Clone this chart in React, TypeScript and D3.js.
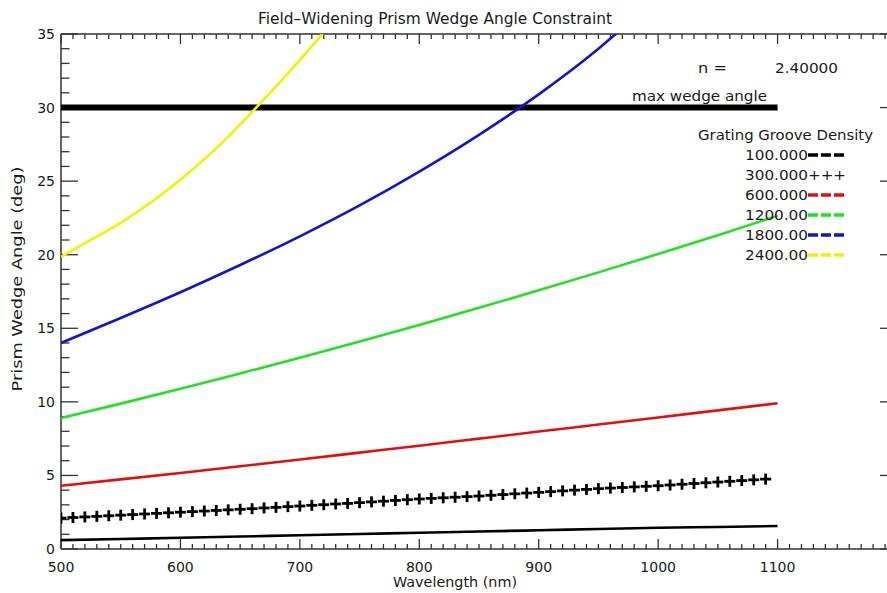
import React from "react";
import * as d3 from "d3";

// wavelength grid (nm) and read-off wedge angles (deg)
const gridNm = [500, 550, 600, 650, 700, 750, 800, 850, 900, 950, 1000, 1050, 1100];
const angle100 = [0.6, 0.68, 0.76, 0.85, 0.93, 1.02, 1.1, 1.19, 1.27, 1.36, 1.44, 1.5, 1.56];
const angle600 = [4.3, 4.73, 5.17, 5.62, 6.08, 6.55, 7.02, 7.5, 7.98, 8.46, 8.94, 9.42, 9.9];
const angle1200 = [8.9, 9.88, 10.89, 11.93, 13.0, 14.1, 15.23, 16.39, 17.58, 18.8, 20.05, 21.33, 22.64];

const nm1800 = [500, 550, 600, 650, 700, 750, 800, 850, 900, 950, 975];
const angle1800 = [14.0, 15.7, 17.45, 19.3, 21.25, 23.35, 25.65, 28.15, 30.9, 34.0, 35.75];

const nm2400 = [500, 523, 551, 579, 607, 635, 662, 690, 718, 730];
const angle2400 = [19.87, 20.92, 22.22, 23.77, 25.57, 27.62, 29.87, 32.32, 34.92, 36.1];

const nm300 = [
  500, 510, 520, 530, 540, 550, 560, 570, 580, 590, 600, 610, 620, 630, 640, 650, 660, 670, 680, 690,
  700, 710, 720, 730, 740, 750, 760, 770, 780, 790, 800, 810, 820, 830, 840, 850, 860, 870, 880, 890,
  900, 910, 920, 930, 940, 950, 960, 970, 980, 990, 1000, 1010, 1020, 1030, 1040, 1050, 1060, 1070, 1080, 1090,
];
const angle300 = [
  2.1, 2.14, 2.18, 2.22, 2.26, 2.3, 2.34, 2.38, 2.42, 2.46, 2.5, 2.54, 2.58, 2.62, 2.66, 2.7, 2.74, 2.79, 2.83, 2.88,
  2.92, 2.97, 3.01, 3.06, 3.1, 3.15, 3.2, 3.25, 3.3, 3.35, 3.4, 3.44, 3.48, 3.52, 3.56, 3.6, 3.65, 3.7, 3.75, 3.8,
  3.85, 3.9, 3.95, 4.0, 4.05, 4.1, 4.14, 4.18, 4.22, 4.26, 4.3, 4.35, 4.4, 4.45, 4.5, 4.55, 4.6, 4.65, 4.7, 4.75,
];

const maxWedgeNm = [500, 1100];
const maxWedgeAngle = [30, 30];

const legendLabels = ["100.000", "300.000", "600.000", "1200.00", "1800.00", "2400.00"];
const legendColors = ["#000000", "#000000", "#e01010", "#22e022", "#1414c8", "#f2f200"];

const xTickLabels = [500, 600, 700, 800, 900, 1000, 1100];
const yTickLabels = [0, 5, 10, 15, 20, 25, 30, 35];

const W = 887;
const H = 593;
const left = 61;
const right = 897;
const top = 34;
const bottom = 549;
const axisColor = "#333";
const textColor = "#1a1a1a";
const font = "DejaVu Sans, sans-serif";

export default function App() {
  const x = d3.scaleLinear().domain([500, 1200]).range([left, right]);
  const y = d3.scaleLinear().domain([0, 35]).range([bottom, top]);

  const line = (xs: number[], ys: number[]) =>
    d3
      .line<number>()
      .x((d) => x(d))
      .y((_, i) => y(ys[i]))
      .curve(d3.curveMonotoneX)(xs) || "";

  const xMinor = d3.range(500, 1201, 10);
  const xMajor = d3.range(500, 1201, 100);
  const yMinor = d3.range(0, 36, 1);
  const yMajor = d3.range(0, 36, 5);

  const curves = [
    { xs: gridNm, ys: angle100, color: legendColors[0] },
    { xs: gridNm, ys: angle600, color: legendColors[2] },
    { xs: gridNm, ys: angle1200, color: legendColors[3] },
    { xs: nm1800, ys: angle1800, color: legendColors[4] },
    { xs: nm2400, ys: angle2400, color: legendColors[5] },
  ];

  const legX = 745;
  const legY0 = 160;
  const legStep = 20;

  return (
    <svg
      width={W}
      height={H}
      style={{ position: "absolute", left: 0, top: 0, background: "#fff" }}
      fontFamily={font}
    >
      <rect width={W} height={H} fill="#fff" />
      <defs>
        <clipPath id="plotArea">
          <rect x={left} y={top} width={right - left} height={bottom - top} />
        </clipPath>
      </defs>

      {/* title */}
      <text x={435} y={24} textAnchor="middle" fontSize={15.5} fill={textColor} textLength={354} lengthAdjust="spacingAndGlyphs">
        Field–Widening Prism Wedge Angle Constraint
      </text>

      {/* frame */}
      <g stroke={axisColor} strokeWidth={1.5} fill="none">
        <line x1={left} x2={right} y1={bottom} y2={bottom} />
        <line x1={left} x2={right} y1={top} y2={top} />
        <line x1={left} x2={left} y1={top} y2={bottom} />
        <line x1={right} x2={right} y1={top} y2={bottom} />
      </g>

      {/* ticks on all four sides */}
      <g stroke={axisColor} strokeWidth={1.3}>
        {xMinor.map((v) => {
          const len = xMajor.includes(v) ? 10 : 5;
          return (
            <g key={"xt" + v}>
              <line x1={x(v)} x2={x(v)} y1={bottom} y2={bottom - len} />
              <line x1={x(v)} x2={x(v)} y1={top} y2={top + len} />
            </g>
          );
        })}
        {yMinor.map((v) => {
          const len = yMajor.includes(v) ? 17 : 8.5;
          return (
            <g key={"yt" + v}>
              <line x1={left} x2={left + len} y1={y(v)} y2={y(v)} />
              <line x1={right} x2={right - len} y1={y(v)} y2={y(v)} />
            </g>
          );
        })}
      </g>

      {/* tick labels */}
      <g fontSize={14} fill={textColor}>
        {xTickLabels.map((v) => (
          <text key={"xl" + v} x={x(v)} y={572} textAnchor="middle">
            {v}
          </text>
        ))}
        {yTickLabels.map((v) => (
          <text key={"yl" + v} x={55} y={y(v) + 5} textAnchor="end">
            {v}
          </text>
        ))}
      </g>

      {/* axis titles */}
      <text x={455} y={587} textAnchor="middle" fontSize={14} fill={textColor} textLength={124} lengthAdjust="spacingAndGlyphs">
        Wavelength (nm)
      </text>
      <text
        transform={`translate(22, 279) rotate(-90)`}
        textAnchor="middle"
        fontSize={14}
        fill={textColor}
        textLength={225}
        lengthAdjust="spacingAndGlyphs"
      >
        Prism Wedge Angle (deg)
      </text>

      {/* data */}
      <g clipPath="url(#plotArea)" fill="none" strokeLinejoin="round">
        <path d={line(maxWedgeNm, maxWedgeAngle)} stroke="#000" strokeWidth={6} />
        {curves.map((c, i) => (
          <path key={"c" + i} d={line(c.xs, c.ys)} stroke={c.color} strokeWidth={2.6} />
        ))}
        {nm300.map((v, i) => (
          <g key={"p" + i} stroke="#000" strokeWidth={2.8}>
            <line x1={x(v) - 5.5} x2={x(v) + 5.5} y1={y(angle300[i])} y2={y(angle300[i])} />
            <line x1={x(v)} x2={x(v)} y1={y(angle300[i]) - 5.5} y2={y(angle300[i]) + 5.5} />
          </g>
        ))}
      </g>

      {/* annotations */}
      <g fontSize={14} fill={textColor}>
        <text x={698} y={73} textLength={29} lengthAdjust="spacingAndGlyphs">n =</text>
        <text x={775} y={73} textLength={63} lengthAdjust="spacingAndGlyphs">2.40000</text>
        <text x={632} y={101} textLength={135} lengthAdjust="spacingAndGlyphs">max wedge angle</text>
        <text x={698} y={140} textLength={175} lengthAdjust="spacingAndGlyphs">Grating Groove Density</text>
        {legendLabels.map((lab, i) => (
          <text key={"lg" + i} x={legX} y={legY0 + i * legStep} textLength={63} lengthAdjust="spacingAndGlyphs">
            {lab}
          </text>
        ))}
      </g>
      {legendLabels.map((lab, i) => {
        const yy = legY0 + i * legStep - 5;
        if (i === 1) {
          return (
            <text key={"ls" + i} x={808} y={legY0 + i * legStep} fontSize={14} fill={textColor} textLength={38} lengthAdjust="spacingAndGlyphs">
              +++
            </text>
          );
        }
        return (
          <line
            key={"ls" + i}
            x1={808}
            x2={846}
            y1={yy}
            y2={yy}
            stroke={legendColors[i]}
            strokeWidth={3.5}
            strokeDasharray="10,3"
          />
        );
      })}
    </svg>
  );
}
